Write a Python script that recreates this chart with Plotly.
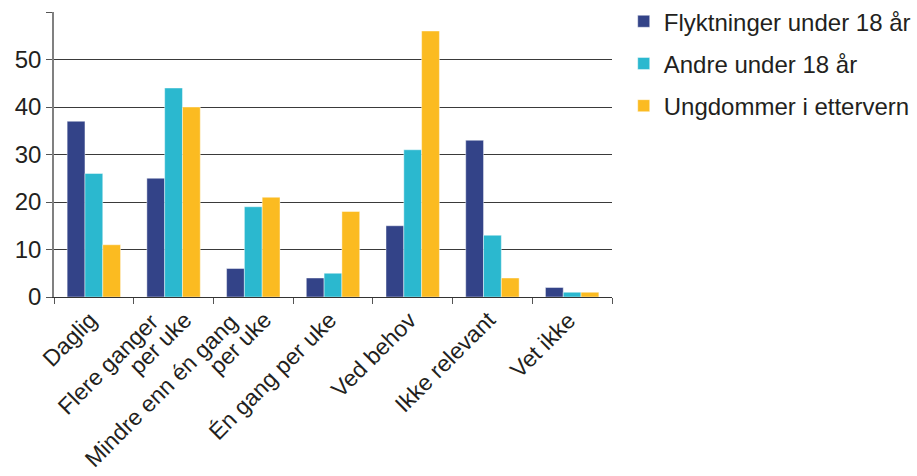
import plotly.graph_objects as go

categories = [
    "Daglig",
    "Flere ganger per uke",
    "Mindre enn én gang per uke",
    "Én gang per uke",
    "Ved behov",
    "Ikke relevant",
    "Vet ikke",
]
# category labels as drawn, split into lines
label_lines = [
    ["Daglig"],
    ["Flere ganger", "per uke"],
    ["Mindre enn én gang", "per uke"],
    ["Én gang per uke"],
    ["Ved behov"],
    ["Ikke relevant"],
    ["Vet ikke"],
]
flyktninger = [37, 25, 6, 4, 15, 33, 2]
andre = [26, 44, 19, 5, 31, 13, 1]
ettervern = [11, 40, 21, 18, 56, 4, 1]

series_names = ["Flyktninger under 18 år", "Andre under 18 år", "Ungdommer i ettervern"]
series_values = [flyktninger, andre, ettervern]
colors = ["#334388", "#2bb8cf", "#fbbb21"]
y_ticks = [0, 10, 20, 30, 40, 50, 60]
y_ticktext = ["0", "10", "20", "30", "40", "50", ""]

font = "Liberation Sans, Arial, sans-serif"
text_color = "#231f20"

fig = go.Figure()
for name, vals, col in zip(series_names, series_values, colors):
    fig.add_trace(go.Bar(
        x=categories, y=vals, name=name, legendgroup=name,
        marker=dict(color=col, line=dict(color="rgba(255,255,255,0.55)", width=0.8)),
    ))

# rotated category labels; two-line labels get their second line
# set below and to the right of the first
annotations = []
for cat, lines in zip(categories, label_lines):
    if len(lines) == 1:
        shifts = [(11, 0)]
    else:
        shifts = [(-7, -2), (26, 0)]
    for text, (dx, dy) in zip(lines, shifts):
        annotations.append(dict(
            x=cat, xref="x", y=0, yref="paper",
            text=text, textangle=-45, showarrow=False,
            xanchor="right", yanchor="top",
            xshift=dx, yshift=-7 + dy,
            font=dict(family=font, size=23, color=text_color),
        ))

fig.update_layout(
    width=917, height=476,
    margin=dict(l=54, r=305, t=12, b=179, autoexpand=False),
    paper_bgcolor="white", plot_bgcolor="white",
    barmode="group", bargap=0.33, bargroupgap=0,
    font=dict(family=font, size=24, color=text_color),
    showlegend=True,
    legend=dict(
        x=1.021, y=1.045, xanchor="left", yanchor="top",
        font=dict(family=font, size=24, color=text_color),
        traceorder="grouped", tracegroupgap=8,
        itemwidth=30,
    ),
    annotations=annotations,
    xaxis=dict(
        type="category", categoryorder="array", categoryarray=categories,
        range=[-0.5, len(categories) - 0.5], autorange=False,
        tickson="boundaries",
        ticks="outside", ticklen=6, tickcolor="#555",
        showline=True, linecolor="#333", linewidth=1.2,
        showticklabels=False,
        showgrid=False, automargin=False,
    ),
    yaxis=dict(
        range=[0, 60], tickvals=y_ticks, ticktext=y_ticktext,
        ticks="outside", ticklen=6, tickcolor="#555",
        showline=True, linecolor="#808080", linewidth=1.5,
        showgrid=True, gridcolor="#3a3a3a", gridwidth=1.3,
        zeroline=False, automargin=False,
        tickfont=dict(family=font, size=24, color=text_color),
    ),
)

fig.write_html("out.html")
